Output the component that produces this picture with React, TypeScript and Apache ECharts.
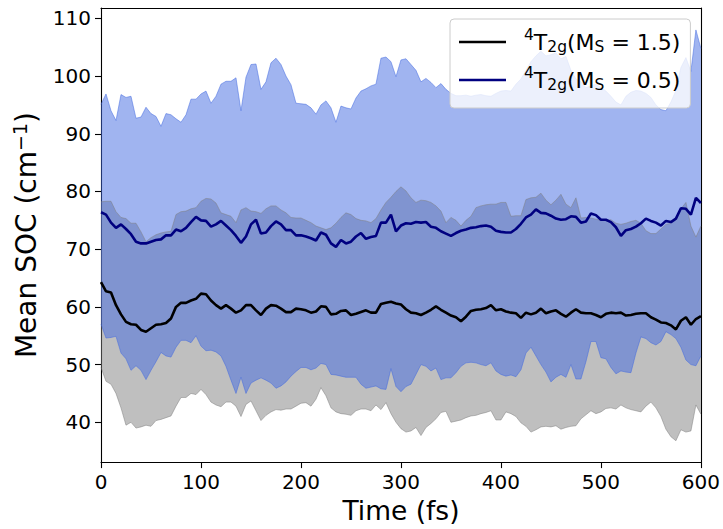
import React, { useEffect, useRef } from "react";
import * as echarts from "echarts";

// Time grid (fs)
const TIME: number[] = Array.from({ length: 121 }, (_, i) => i * 5);
const X_TICKS = [0, 100, 200, 300, 400, 500, 600];
const Y_TICKS = [40, 50, 60, 70, 80, 90, 100, 110];

// 4T2g (MS = 1.5): mean and band (mean ± std)
const MS15_MEAN = [
  64.3, 62.7, 62.5, 60.3, 58.7, 57.4, 57.0, 56.9, 56.0, 55.7,
  56.3, 56.9, 57.0, 57.2, 58.0, 60.0, 60.7, 60.7, 61.1, 61.4,
  62.3, 62.2, 61.1, 60.3, 59.7, 60.3, 59.7, 59.0, 59.4, 60.3,
  60.3, 59.4, 58.6, 59.7, 60.3, 60.2, 59.7, 59.1, 59.1, 59.7,
  59.6, 59.4, 59.0, 59.2, 60.1, 60.0, 58.7, 58.8, 59.3, 59.4,
  58.6, 58.8, 59.1, 59.4, 59.0, 59.0, 60.5, 60.7, 60.9, 60.6,
  60.4, 59.6, 59.0, 58.9, 58.6, 59.0, 59.5, 60.1, 59.5, 59.0,
  58.5, 58.2, 57.5, 58.3, 59.3, 59.5, 59.6, 59.8, 60.3, 59.4,
  59.6, 59.2, 59.0, 58.9, 58.1, 59.0, 58.7, 59.0, 59.7, 58.9,
  59.2, 59.4, 58.8, 58.3, 59.0, 59.6, 59.0, 58.9, 58.9, 58.6,
  58.2, 58.8, 59.0, 58.9, 59.0, 58.5, 58.6, 58.8, 58.9, 58.9,
  58.2, 57.8, 57.3, 57.2, 56.8, 56.1, 57.6, 58.2, 56.9, 57.9, 58.4,
];
const MS15_LOW = [
  49.5, 47.1, 46.6, 45.0, 42.5, 39.5, 40.0, 39.0, 39.2, 39.5,
  39.3, 40.3, 40.5, 40.8, 41.1, 42.8, 44.3, 44.3, 45.0, 44.8,
  45.7, 44.8, 43.5, 43.0, 42.7, 43.5, 43.5, 42.8, 41.0, 43.1,
  43.7, 42.0, 40.3, 41.2, 41.8, 42.2, 42.1, 42.3, 42.3, 42.8,
  43.3, 43.4, 42.8, 44.0, 46.0, 44.6, 42.5, 41.8, 41.5, 41.4,
  41.2, 42.0, 42.3, 42.3, 42.0, 43.0, 42.2, 43.4, 41.5, 40.0,
  38.9, 38.3, 38.5, 39.1, 37.7, 39.1, 39.8, 40.6, 41.7, 41.9,
  40.0, 40.2, 40.4, 40.8, 41.1, 41.2, 41.5, 41.7, 42.0, 40.4,
  40.4, 41.8, 41.5, 41.0, 39.9, 39.3, 38.3, 38.7, 39.2, 39.3,
  39.2, 39.4, 38.8, 39.1, 39.3, 39.4, 40.6, 41.3, 42.0, 41.5,
  41.8, 42.4, 42.5, 42.3, 43.0, 42.5, 42.2, 42.0, 41.8, 42.8,
  43.5, 42.5, 41.0, 38.8, 37.5, 36.8, 38.7, 38.3, 38.5, 43.0, 41.4,
];
const MS15_HIGH = [
  78.2, 78.3, 78.3, 76.5, 75.5, 75.3, 74.5, 74.5, 73.0, 71.3,
  72.0, 72.5, 72.8, 73.0, 73.1, 76.0, 76.5, 76.6, 77.0, 77.2,
  78.3, 78.8, 78.7, 78.0, 76.3, 76.0, 75.7, 74.6, 76.8, 77.2,
  76.6, 76.5, 76.2, 77.0, 77.5, 77.5, 76.8, 76.3, 75.5, 75.4,
  75.4, 75.0, 74.6, 74.0, 73.7, 73.4, 73.7, 74.5, 75.5, 76.3,
  76.0, 75.3, 75.0, 74.9, 74.6, 75.3, 76.8, 78.1, 79.0, 80.0,
  80.8, 80.1, 78.9, 78.1, 78.5, 78.4, 78.1, 77.5, 76.6, 74.6,
  75.5, 75.0, 74.0, 75.0, 75.7, 77.2, 77.5, 77.7, 77.8, 77.8,
  78.1, 78.1, 75.7, 75.8, 75.8, 78.6, 78.9, 79.0, 79.7, 78.5,
  77.7, 78.5, 79.5, 77.8, 77.2, 78.9, 75.4, 75.5, 75.4, 75.2,
  75.0, 75.0, 75.1, 74.5, 74.3, 74.5, 74.8, 75.0, 74.5, 73.2,
  72.7, 72.7, 73.5, 74.3, 74.5, 75.5, 77.0, 78.1, 74.0, 72.1, 74.0,
];

// 4T2g (MS = 0.5): mean and band (mean ± std)
const MS05_MEAN = [
  76.4, 76.0, 74.6, 73.7, 74.3, 73.5, 72.6, 71.3, 71.0, 71.0,
  71.3, 71.6, 71.7, 72.4, 72.4, 73.4, 73.1, 73.7, 74.7, 75.6,
  75.0, 74.9, 73.9, 74.3, 74.9, 74.1, 73.3, 72.3, 71.1, 72.2,
  74.3, 75.1, 72.7, 72.9, 74.0, 74.8, 74.3, 73.3, 73.3, 72.4,
  72.4, 72.2, 71.9, 71.5, 72.9, 72.5, 71.0, 70.4, 71.6, 71.0,
  71.3, 72.2, 72.8, 71.8, 72.1, 72.3, 74.6, 74.6, 76.0, 73.1,
  74.1, 74.5, 74.4, 74.7, 74.6, 74.7, 73.9, 73.7, 73.1, 72.7,
  72.3, 72.8, 73.2, 73.4, 73.7, 73.8, 74.0, 74.1, 73.9, 73.2,
  73.0, 72.9, 72.9, 73.5, 74.4, 75.5, 76.0, 76.9, 76.3, 76.2,
  75.8, 75.3, 75.1, 75.2, 75.7, 75.6, 74.6, 74.8, 76.2, 75.9,
  75.1, 75.1, 74.7, 73.8, 72.3, 73.3, 73.5, 73.9, 74.5, 75.3,
  74.9, 74.6, 74.1, 74.9, 74.7, 75.3, 77.1, 77.0, 76.0, 78.9, 78.0,
];
const MS05_LOW = [
  57.0, 54.6, 54.7, 54.9, 52.0, 51.0, 49.0, 49.8, 49.0, 47.4,
  49.0, 50.5, 52.1, 51.5, 51.3, 53.0, 54.2, 54.2, 53.8, 55.0,
  53.2, 52.4, 52.5, 52.2, 51.5, 49.7, 47.3, 45.0, 47.8, 45.0,
  46.8, 47.3, 47.7, 47.3, 46.8, 45.9, 46.3, 47.0, 48.0, 48.8,
  49.5, 49.5, 49.1, 49.4, 50.2, 50.0, 48.3, 48.2, 48.0, 47.8,
  47.8, 47.8, 46.6, 45.9, 46.1, 46.3, 45.8, 45.7, 49.3, 46.2,
  45.3, 46.2, 46.6, 48.3, 50.0, 49.7, 48.9, 49.4, 47.4, 47.7,
  47.7, 48.6, 49.7, 50.3, 50.4, 50.3, 50.0, 49.8, 50.3, 48.9,
  48.3, 48.0, 48.2, 47.9, 49.1, 52.0, 53.0, 51.5, 50.0, 48.7,
  47.0, 47.8, 48.3, 47.8, 50.0, 47.5, 47.5, 50.5, 54.0, 54.0,
  51.2, 51.0, 49.5, 48.4, 48.9, 48.7, 48.6, 52.0, 54.8, 54.5,
  53.8, 53.4, 54.0, 55.7, 55.2, 54.5, 53.0, 50.8, 50.0, 49.8, 51.5,
];
const MS05_HIGH = [
  95.1, 96.9, 94.0, 92.3, 96.8, 96.3, 96.5, 92.7, 92.9, 94.6,
  93.5, 93.0, 91.3, 93.5, 93.3, 92.6, 92.0, 93.3, 96.0, 96.0,
  96.9, 97.4, 95.3, 96.5, 98.6, 99.1, 99.1, 99.7, 94.0, 99.8,
  102.0, 102.1, 97.7, 99.0, 102.3, 103.1, 102.0, 100.0, 98.5, 95.3,
  95.2, 95.1, 94.5, 93.4, 95.0, 95.7, 94.5, 92.0, 94.8, 94.5,
  94.3, 96.2, 97.4, 97.8, 98.3, 98.6, 103.1, 103.3, 102.5, 99.9,
  102.8, 103.0, 102.0, 101.0, 99.0, 99.6, 98.9, 98.0, 98.7, 97.7,
  97.0, 96.6, 96.6, 96.7, 96.5, 96.7, 96.8, 96.6, 96.5, 97.0,
  97.4, 97.5, 97.4, 98.6, 99.5, 101.0, 102.5, 103.5, 104.3, 103.5,
  103.7, 104.0, 103.0, 103.4, 101.0, 99.5, 99.0, 98.0, 98.3, 98.6,
  98.0, 97.4, 96.5, 95.5, 95.0, 96.5, 97.2, 97.5, 97.4, 97.0,
  96.3, 95.0, 94.2, 94.0, 95.5, 97.5, 101.5, 103.2, 100.8, 108.0, 104.8,
];

const SERIES_NAMES = ["MS15", "MS05"];
const LEGEND_TEXT: Record<string, string> = {
  MS15: "{sup|4}{n|T}{sub|2g}{n|(M}{sub|S}{n| = 1.5)}",
  MS05: "{sup|4}{n|T}{sub|2g}{n|(M}{sub|S}{n| = 0.5)}",
};

const FONT = "DejaVu Sans";

export default function App() {
  const ref = useRef<HTMLDivElement>(null);

  useEffect(() => {
    if (!ref.current) return;
    const chart = echarts.init(ref.current, null, { renderer: "svg" });
    const cats = TIME.map(String);
    const diff = (hi: number[], lo: number[]) =>
      hi.map((v, i) => Math.round((v - lo[i]) * 1000) / 1000);
    const isTick = (_i: number, v: string) => X_TICKS.includes(Number(v));

    const grey = "rgba(128,128,128,0.5)";
    const blue = "rgba(65,105,225,0.5)";

    const bandEdge = (c: string) => ({ color: c, width: 1 });

    chart.setOption({
      animation: false,
      grid: { left: 101, right: 21, top: 8, bottom: 62, containLabel: false },
      xAxis: [
        {
          type: "category",
          data: cats,
          boundaryGap: false,
          name: "Time (fs)",
          nameLocation: "middle",
          nameGap: 33,
          nameTextStyle: { fontFamily: FONT, fontSize: 26.5, color: "#000" },
          axisLine: { lineStyle: { color: "#000", width: 1.1 } },
          axisTick: { show: true, inside: false, length: 6, interval: isTick, lineStyle: { color: "#000", width: 1.1 } },
          axisLabel: { interval: isTick, fontFamily: FONT, fontSize: 20, color: "#000", margin: 10 },
          splitLine: { show: false },
        },
        {
          type: "category",
          data: cats,
          boundaryGap: false,
          position: "top",
          axisLine: { lineStyle: { color: "#000", width: 1.1 } },
          axisTick: { show: false },
          axisLabel: { show: false },
          splitLine: { show: false },
        },
      ],
      yAxis: [
        {
          type: "value",
          min: 33.1,
          max: 111.8,
          name: "Mean SOC (cm{sup|−1})",
          nameLocation: "middle",
          nameRotate: 90,
          nameGap: 59,
          nameTextStyle: {
            fontFamily: FONT,
            fontSize: 28,
            color: "#000",
            rich: {
              sup: { fontFamily: FONT, fontSize: 19, color: "#000", padding: [0, 0, 13, 0] },
            },
          },
          axisLine: { show: true, lineStyle: { color: "#000", width: 1.1 } },
          axisTick: { show: true, inside: false, length: 6, customValues: Y_TICKS, lineStyle: { color: "#000", width: 1.1 } },
          axisLabel: { customValues: Y_TICKS, fontFamily: FONT, fontSize: 20, color: "#000", margin: 10 },
          splitLine: { show: false },
        },
        {
          type: "value",
          min: 33.1,
          max: 111.8,
          position: "right",
          axisLine: { show: true, lineStyle: { color: "#000", width: 1.1 } },
          axisTick: { show: false },
          axisLabel: { show: false },
          splitLine: { show: false },
        },
      ],
      legend: {
        data: SERIES_NAMES,
        orient: "vertical",
        left: 450,
        top: 19,
        padding: [8, 10, 15, 9],
        itemGap: 10,
        itemWidth: 47,
        itemHeight: 2.6,
        icon: "rect",
        backgroundColor: "rgba(255,255,255,0.8)",
        borderColor: "#cccccc",
        borderWidth: 1,
        borderRadius: 4,
        formatter: (name: string) => LEGEND_TEXT[name],
        textStyle: {
          fontFamily: FONT,
          fontSize: 22,
          color: "#000",
          padding: [0, 0, 0, 13],
          rich: {
            n: { fontFamily: FONT, fontSize: 22, color: "#000", lineHeight: 30 },
            sup: { fontFamily: FONT, fontSize: 15.5, color: "#000", padding: [0, 0, 14, 0] },
            sub: { fontFamily: FONT, fontSize: 15.5, color: "#000", padding: [10, 0, 0, 0] },
          },
        },
      },
      series: [
        {
          name: "ms15_low",
          type: "line",
          data: MS15_LOW,
          stack: "ms15band",
          symbol: "none",
          silent: true,
          lineStyle: bandEdge(grey),
          z: 1,
        },
        {
          name: "ms15_band",
          type: "line",
          data: diff(MS15_HIGH, MS15_LOW),
          stack: "ms15band",
          symbol: "none",
          silent: true,
          lineStyle: bandEdge(grey),
          areaStyle: { color: grey, opacity: 1 },
          z: 1,
        },
        {
          name: "ms05_low",
          type: "line",
          data: MS05_LOW,
          stack: "ms05band",
          symbol: "none",
          silent: true,
          lineStyle: bandEdge(blue),
          z: 1,
        },
        {
          name: "ms05_band",
          type: "line",
          data: diff(MS05_HIGH, MS05_LOW),
          stack: "ms05band",
          symbol: "none",
          silent: true,
          lineStyle: bandEdge(blue),
          areaStyle: { color: blue, opacity: 1 },
          z: 1,
        },
        {
          name: "MS15",
          type: "line",
          data: MS15_MEAN,
          symbol: "none",
          itemStyle: { color: "#000000" },
          lineStyle: { color: "#000000", width: 2.6 },
          z: 3,
        },
        {
          name: "MS05",
          type: "line",
          data: MS05_MEAN,
          symbol: "none",
          itemStyle: { color: "#000080" },
          lineStyle: { color: "#000080", width: 2.6 },
          z: 3,
        },
      ],
    });

    return () => chart.dispose();
  }, []);

  return (
    <div
      ref={ref}
      style={{ position: "fixed", left: 0, top: 0, width: 723, height: 529, background: "#fff" }}
    />
  );
}
